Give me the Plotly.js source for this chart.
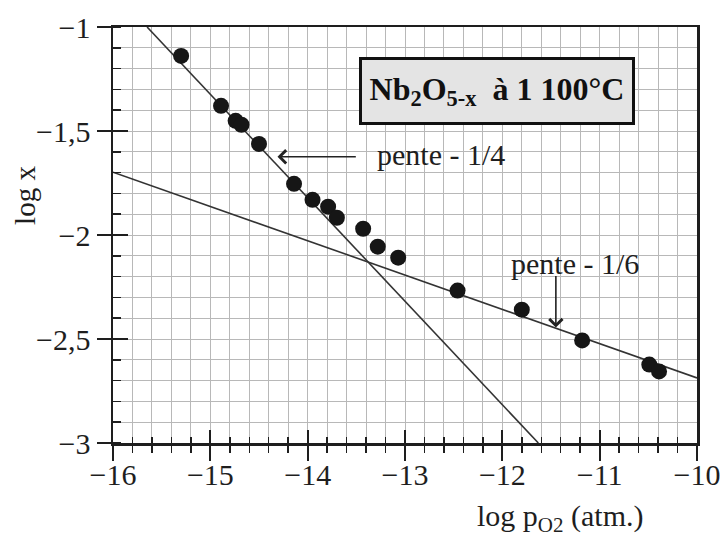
<!DOCTYPE html>
<html>
<head>
<meta charset="utf-8">
<script src="https://cdn.plot.ly/plotly-3.0.1.min.js"></script>
<style>html,body{margin:0;padding:0;background:#fff;}#chart{width:725px;height:536px;}</style>
</head>
<body>
<div id="chart"></div>
<script>
// Measured points: log pO2 (atm) vs log x
const logPO2 = [-15.30, -14.89, -14.74, -14.68, -14.50, -14.14, -13.95, -13.79, -13.70, -13.43, -13.28, -13.07, -12.46, -11.80, -11.18, -10.49, -10.39];
const logX   = [-1.139, -1.379, -1.451, -1.470, -1.562, -1.754, -1.831, -1.864, -1.917, -1.970, -2.056, -2.109, -2.267, -2.359, -2.507, -2.623, -2.656];

// Fit lines (endpoints)
const slope14X = [-15.65, -11.63];
const slope14Y = [-1.0, -3.0];
const slope16X = [-16.0, -10.0];
const slope16Y = [-1.698, -2.687];

// Tick labels
const xTickVals = [-16, -15, -14, -13, -12, -11, -10];
const xTickText = ['\u221216', '\u221215', '\u221214', '\u221213', '\u221212', '\u221211', '\u221210'];
const yTickVals = [-3, -2.5, -2, -1.5, -1];
const yTickText = ['\u22123', '\u22122,5', '\u22122', '\u22121,5', '\u22121'];

// Annotation anchor values
const label14 = {tipX: -14.31, tipY: -1.624, tailX: -13.49, textX: -13.31, textY: -1.615, text: 'pente - 1/4'};
const label16 = {tipX: -11.45, tipY: -2.445, tailY: -2.19, textX: -11.93, textY: -2.135, text: 'pente - 1/6'};
const boxLabel = {x: -12.05, y: -1.31, text: '<b>Nb<sub>2</sub>O<sub>5-x</sub>  \u00e0 1 100\u00b0C</b>'};

const FONT = 'Liberation Serif, Times New Roman, Times, serif';
const INK = '#1e1e1e';
const GRID = '#b8b8b8';
const xRange = [-16, -10];
const yRange = [-3, -1];

const traces = [
  {x: slope14X, y: slope14Y, mode: 'lines', line: {color: '#333', width: 1.6}, showlegend: false, hoverinfo: 'skip'},
  {x: slope16X, y: slope16Y, mode: 'lines', line: {color: '#333', width: 1.6}, showlegend: false, hoverinfo: 'skip'},
  {x: logPO2, y: logX, mode: 'markers', marker: {size: 16, color: '#161616'}, showlegend: false},
  {x: [], y: [], xaxis: 'x2', yaxis: 'y2', mode: 'markers', showlegend: false}
];

const layout = {
  width: 725, height: 536,
  margin: {l: 113, r: 28, t: 27, b: 93},
  paper_bgcolor: '#fff', plot_bgcolor: '#fff',
  font: {family: FONT, color: INK, size: 28},
  xaxis: {
    range: xRange, tickmode: 'array', tickvals: xTickVals, ticktext: xTickText,
    ticks: 'outside', ticklen: 15, tickwidth: 2, tickcolor: INK, ticklabelstandoff: -12,
    showline: true, linewidth: 2.5, linecolor: INK, mirror: true,
    showgrid: true, gridcolor: GRID, gridwidth: 1, zeroline: false,
    tickfont: {family: FONT, size: 30, color: INK},
    minor: {tickmode: 'linear', tick0: -16, dtick: 0.2, ticks: 'outside', ticklen: 7, tickwidth: 1.5, tickcolor: INK, showgrid: true, gridcolor: GRID, gridwidth: 1}
  },
  yaxis: {
    range: yRange, tickmode: 'array', tickvals: yTickVals, ticktext: yTickText,
    ticks: 'outside', ticklen: 14, tickwidth: 2, tickcolor: INK,
    showline: true, linewidth: 2.5, linecolor: INK, mirror: true,
    showgrid: true, gridcolor: GRID, gridwidth: 1, zeroline: false,
    tickfont: {family: FONT, size: 30, color: INK},
    minor: {tickmode: 'linear', tick0: -3, dtick: 0.1, ticks: 'inside', ticklen: 8, tickwidth: 1.5, tickcolor: INK, showgrid: true, gridcolor: GRID, gridwidth: 1}
  },
  xaxis2: {
    overlaying: 'x', anchor: 'y2', side: 'bottom', range: xRange,
    tickmode: 'array', tickvals: xTickVals, ticks: 'inside', ticklen: 13, tickwidth: 2, tickcolor: INK,
    showticklabels: false, showgrid: false, zeroline: false, showline: false,
    minor: {tickmode: 'linear', tick0: -16, dtick: 0.2, ticks: 'inside', ticklen: 6, tickwidth: 1.5, tickcolor: INK, showgrid: false}
  },
  yaxis2: {
    overlaying: 'y', anchor: 'x2', side: 'left', range: yRange,
    tickmode: 'array', tickvals: yTickVals, ticks: 'inside', ticklen: 15, tickwidth: 2, tickcolor: INK,
    showticklabels: false, showgrid: false, zeroline: false, showline: false
  },
  annotations: [
    {x: boxLabel.x, y: boxLabel.y, xref: 'x', yref: 'y', text: boxLabel.text, showarrow: false,
     font: {family: FONT, size: 32, color: '#111'}, bgcolor: '#e4e4e4', bordercolor: '#111', borderwidth: 3,
     width: 268, height: 60, borderpad: 1, xanchor: 'center', yanchor: 'middle'},
    {x: label14.tipX, y: label14.tipY, ax: label14.tailX, ay: label14.tipY, xref: 'x', yref: 'y', axref: 'x', ayref: 'y',
     text: '', showarrow: true, arrowhead: 4, arrowsize: 1.6, arrowwidth: 1.6, arrowcolor: '#222'},
    {x: label14.textX, y: label14.textY, xref: 'x', yref: 'y', text: label14.text, showarrow: false,
     xanchor: 'left', yanchor: 'middle', font: {family: FONT, size: 30, color: INK}},
    {x: label16.tipX, y: label16.tipY, ax: label16.tipX, ay: label16.tailY, xref: 'x', yref: 'y', axref: 'x', ayref: 'y',
     text: '', showarrow: true, arrowhead: 4, arrowsize: 1.6, arrowwidth: 1.6, arrowcolor: '#222'},
    {x: label16.textX, y: label16.textY, xref: 'x', yref: 'y', text: label16.text, showarrow: false,
     xanchor: 'left', yanchor: 'middle', font: {family: FONT, size: 30, color: INK}},
    {x: 0.62, y: -0.18, xref: 'paper', yref: 'paper', text: 'log p<sub>O2</sub> (atm.)', showarrow: false,
     xanchor: 'left', yanchor: 'middle', font: {family: FONT, size: 30, color: INK}},
    {x: -0.151, y: 0.596, xref: 'paper', yref: 'paper', text: 'log x', textangle: -90, showarrow: false,
     xanchor: 'center', yanchor: 'middle', font: {family: FONT, size: 29, color: INK}}
  ]
};

Plotly.newPlot('chart', traces, layout, {staticPlot: true, displayModeBar: false});
</script>
</body>
</html>
